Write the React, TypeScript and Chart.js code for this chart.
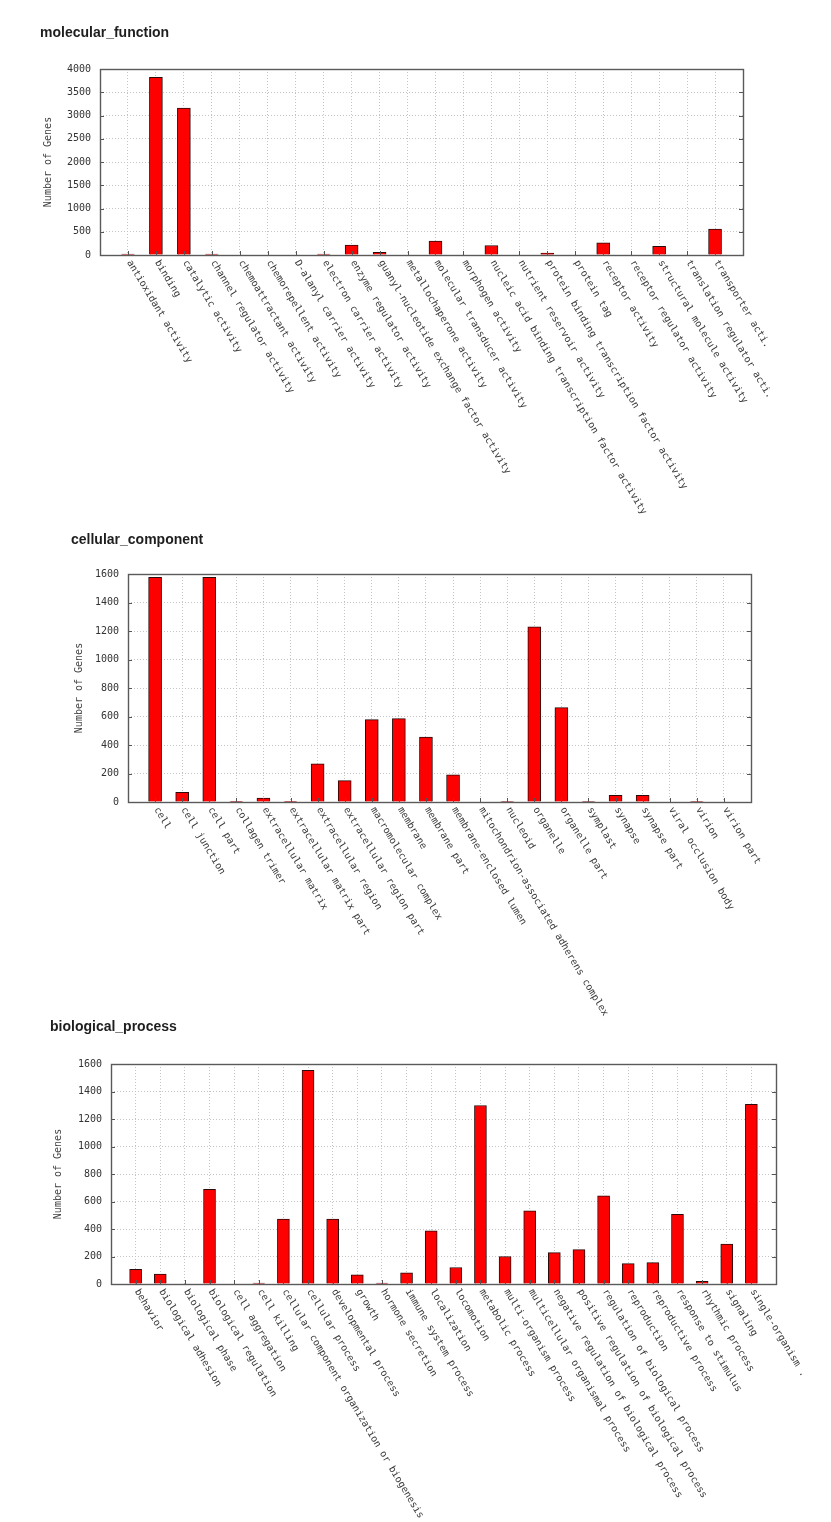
import React, { useEffect, useRef } from 'react';
import { Chart, registerables } from 'chart.js';

Chart.register(...registerables);

// ---------------- data ----------------
const mfCategories = [
  'antioxidant activity',
  'binding',
  'catalytic activity',
  'channel regulator activity',
  'chemoattractant activity',
  'chemorepellent activity',
  'D-alanyl carrier activity',
  'electron carrier activity',
  'enzyme regulator activity',
  'guanyl-nucleotide exchange factor activity',
  'metallochaperone activity',
  'molecular transducer activity',
  'morphogen activity',
  'nucleic acid binding transcription factor activity',
  'nutrient reservoir activity',
  'protein binding transcription factor activity',
  'protein tag',
  'receptor activity',
  'receptor regulator activity',
  'structural molecule activity',
  'translation regulator acti.',
  'transporter acti.',
];
const mfValues = [20, 3820, 3160, 20, 0, 0, 0, 20, 215, 60, 0, 300, 0, 205, 0, 40, 0, 262, 0, 186, 0, 557];
const mfYTicks = [0, 500, 1000, 1500, 2000, 2500, 3000, 3500, 4000];

const ccCategories = [
  'cell',
  'cell junction',
  'cell part',
  'collagen trimer',
  'extracellular matrix',
  'extracellular matrix part',
  'extracellular region',
  'extracellular region part',
  'macromolecular complex',
  'membrane',
  'membrane part',
  'membrane-enclosed lumen',
  'mitochondrion-associated adherens complex',
  'nucleoid',
  'organelle',
  'organelle part',
  'symplast',
  'synapse',
  'synapse part',
  'viral occlusion body',
  'virion',
  'virion part',
];
const ccValues = [1577, 68, 1577, 5, 28, 5, 267, 150, 578, 585, 455, 190, 0, 4, 1230, 662, 4, 47, 47, 0, 4, 0];
const ccYTicks = [0, 200, 400, 600, 800, 1000, 1200, 1400, 1600];

const bpCategories = [
  'behavior',
  'biological adhesion',
  'biological phase',
  'biological regulation',
  'cell aggregation',
  'cell killing',
  'cellular component organization or biogenesis',
  'cellular process',
  'developmental process',
  'growth',
  'hormone secretion',
  'immune system process',
  'localization',
  'locomotion',
  'metabolic process',
  'multi-organism process',
  'multicellular organismal process',
  'negative regulation of biological process',
  'positive regulation of biological process',
  'regulation of biological process',
  'reproduction',
  'reproductive process',
  'response to stimulus',
  'rhythmic process',
  'signaling',
  'single-organism .',
];
const bpValues = [107, 73, 0, 688, 0, 7, 472, 1554, 473, 66, 7, 82, 386, 120, 1298, 200, 533, 228, 250, 642, 148, 155, 507, 19, 291, 1307];
const bpYTicks = [0, 200, 400, 600, 800, 1000, 1200, 1400, 1600];

// ---------------- layout ----------------
const PAGE_W = 831;
const AXIS_FONT = '"DejaVu Sans Mono", monospace';

type Panel = {
  title: string;
  titleLeft: number;
  titleTop: number;
  canvasTop: number;
  canvasHeight: number;
  plotLeft: number;
  plotTop: number;
  plotRight: number;
  plotBottom: number;
  yTitleX: number;
  barThickness: number;
  categories: string[];
  values: number[];
  yTicks: number[];
};

const panels: Panel[] = [
  {
    title: 'molecular_function', titleLeft: 40, titleTop: 24,
    canvasTop: 0, canvasHeight: 522,
    plotLeft: 100, plotTop: 69, plotRight: 743, plotBottom: 255,
    yTitleX: 48, barThickness: 13,
    categories: mfCategories, values: mfValues, yTicks: mfYTicks,
  },
  {
    title: 'cellular_component', titleLeft: 71, titleTop: 531,
    canvasTop: 522, canvasHeight: 496,
    plotLeft: 128, plotTop: 574, plotRight: 751, plotBottom: 802,
    yTitleX: 79, barThickness: 13,
    categories: ccCategories, values: ccValues, yTicks: ccYTicks,
  },
  {
    title: 'biological_process', titleLeft: 50, titleTop: 1018,
    canvasTop: 1018, canvasHeight: 504,
    plotLeft: 111, plotTop: 1064, plotRight: 776, plotBottom: 1284,
    yTitleX: 58, barThickness: 12,
    categories: bpCategories, values: bpValues, yTicks: bpYTicks,
  },
];

// ---------------- plugin: frame, inward ticks, rotated labels ----------------
const framePlugin = {
  id: 'gnuFrame',
  afterDatasetsDraw(chart: any) {
    const { ctx, chartArea: a, scales } = chart;
    const ys = scales.y;
    const xs = scales.x;
    ctx.save();
    ctx.strokeStyle = '#555';
    ctx.lineWidth = 1;
    ctx.beginPath();
    ys.ticks.forEach((t: any) => {
      const py = Math.round(ys.getPixelForValue(t.value)) + 0.5;
      ctx.moveTo(a.left, py);
      ctx.lineTo(a.left + 4, py);
      ctx.moveTo(a.right, py);
      ctx.lineTo(a.right - 4, py);
    });
    const n = chart.data.labels.length;
    for (let i = 1; i < n - 1; i++) {
      const px = Math.round(xs.getPixelForValue(i)) + 0.5;
      ctx.moveTo(px, a.bottom);
      ctx.lineTo(px, a.bottom - 4);
    }
    ctx.stroke();
    ctx.lineWidth = 1.4;
    ctx.strokeStyle = '#5a5a5a';
    ctx.strokeRect(Math.round(a.left) + 0.5, Math.round(a.top) + 0.5, Math.round(a.right - a.left), Math.round(a.bottom - a.top));
    ctx.restore();
  },
  afterDraw(chart: any) {
    const { ctx, chartArea: a, scales } = chart;
    const xs = scales.x;
    const labels: string[] = chart.data.labels;
    ctx.save();
    ctx.fillStyle = '#3a3a3a';
    ctx.font = '9.8px ' + AXIS_FONT;
    ctx.textAlign = 'left';
    ctx.textBaseline = 'middle';
    for (let i = 1; i < labels.length - 1; i++) {
      const px = xs.getPixelForValue(i);
      ctx.save();
      ctx.translate(px + 1, a.bottom + 6);
      ctx.rotate((59 * Math.PI) / 180);
      ctx.fillText(labels[i], 0, 0);
      ctx.restore();
    }
    ctx.restore();
  },
};

function BarPanel({ p }: { p: Panel }) {
  const ref = useRef<HTMLCanvasElement | null>(null);
  useEffect(() => {
    if (!ref.current) return;
    const labels = ['', ...p.categories, ''];
    const data: (number | null)[] = [null, ...p.values, null];
    const gridColor = '#c4c4c4';
    const chart = new Chart(ref.current, {
      type: 'bar',
      data: {
        labels,
        datasets: [
          {
            data,
            backgroundColor: '#ff0000',
            borderColor: '#2b0a0a',
            borderWidth: 1,
            barThickness: p.barThickness,
          } as any,
        ],
      },
      options: {
        animation: false,
        responsive: false,
        events: [],
        devicePixelRatio: 1,
        layout: {
          padding: {
            left: 0,
            top: p.plotTop - p.canvasTop,
            right: PAGE_W - p.plotRight,
            bottom: 0,
          },
        },
        plugins: {
          legend: { display: false },
          tooltip: { enabled: false },
          title: { display: false },
        },
        scales: {
          x: {
            type: 'category',
            offset: false,
            grid: { offset: false, color: gridColor, lineWidth: 1, drawTicks: false },
            border: { display: false, dash: [1, 2] },
            ticks: { display: false, autoSkip: false },
            afterFit: (s: any) => {
              s.height = p.canvasTop + p.canvasHeight - p.plotBottom;
            },
          },
          y: {
            min: p.yTicks[0],
            max: p.yTicks[p.yTicks.length - 1],
            grid: { color: gridColor, lineWidth: 1, drawTicks: false },
            border: { display: false, dash: [1, 2] },
            ticks: {
              padding: 9,
              color: '#333',
              font: { family: AXIS_FONT, size: 10 },
              autoSkip: false,
              callback: (v: any) => String(v),
            },
            afterBuildTicks: (s: any) => {
              s.ticks = p.yTicks.map((v) => ({ value: v }));
            },
            afterFit: (s: any) => {
              s.width = p.plotLeft;
            },
            title: {
              display: true,
              text: 'Number of Genes',
              color: '#444',
              font: { family: AXIS_FONT, size: 10 },
              padding: { top: p.yTitleX - 6, bottom: 0 },
            },
          },
        },
      } as any,
      plugins: [framePlugin as any],
    });
    return () => chart.destroy();
  }, [p]);
  return (
    <>
      <canvas
        ref={ref}
        width={PAGE_W}
        height={p.canvasHeight}
        style={{ position: 'absolute', left: 0, top: p.canvasTop, width: PAGE_W, height: p.canvasHeight, display: 'block' }}
      />
      <div
        style={{
          position: 'absolute',
          left: p.titleLeft,
          top: p.titleTop,
          font: 'bold 14px "Liberation Sans", Arial, sans-serif',
          lineHeight: '16px',
          color: '#1e1e1e',
          whiteSpace: 'nowrap',
        }}
      >
        {p.title}
      </div>
    </>
  );
}

export default function App() {
  return (
    <div style={{ position: 'absolute', left: 0, top: 0, width: PAGE_W, height: 1522, background: '#fff', overflow: 'hidden' }}>
      {panels.map((p) => (
        <BarPanel key={p.title} p={p} />
      ))}
    </div>
  );
}
